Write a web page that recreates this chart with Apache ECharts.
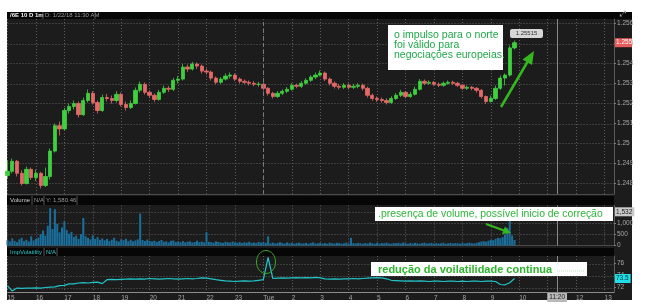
<!DOCTYPE html>
<html><head><meta charset="utf-8">
<script src="https://cdn.jsdelivr.net/npm/echarts@6/dist/echarts.min.js"></script>
<style>html,body{margin:0;padding:0;background:#fff}#c{width:648px;height:307px}</style>
</head><body><div id="c"></div>
<script>
// ---- data ----
const hourLabels = ['15','16','17','18','19','20','21','22','23','Tue','2','3','4','5','6','7','8','9','10','11','12','13'];
const opens = [1.24840,1.24861,1.24911,1.24851,1.24800,1.24871,1.24830,1.24851,1.24790,1.24835,
 1.24962,1.25089,1.25073,1.25165,1.25185,1.25200,1.25144,1.25215,1.25251,1.25205,
 1.25165,1.25230,1.25225,1.25215,1.25246,1.25195,1.25180,1.25200,1.25266,1.25296,
 1.25256,1.25241,1.25220,1.25256,1.25276,1.25271,1.25316,1.25322,1.25382,1.25372,
 1.25397,1.25387,1.25362,1.25357,1.25327,1.25306,1.25322,1.25337,1.25342,1.25322,
 1.25311,1.25306,1.25301,1.25296,1.25296,1.25276,1.25251,1.25235,1.25251,1.25261,
 1.25271,1.25291,1.25286,1.25301,1.25316,1.25332,1.25342,1.25352,1.25322,1.25301,
 1.25286,1.25281,1.25291,1.25281,1.25286,1.25291,1.25276,1.25241,1.25225,1.25220,
 1.25215,1.25205,1.25225,1.25241,1.25256,1.25235,1.25246,1.25271,1.25311,1.25301,
 1.25306,1.25296,1.25291,1.25301,1.25306,1.25301,1.25291,1.25276,1.25281,1.25276,
 1.25266,1.25235,1.25210,1.25225,1.25276,1.25327,1.25342,1.25478];
const closes = [1.24861,1.24911,1.24851,1.24800,1.24871,1.24830,1.24851,1.24790,1.24835,1.24962,
 1.25089,1.25073,1.25165,1.25185,1.25200,1.25144,1.25215,1.25251,1.25205,1.25165,
 1.25230,1.25225,1.25215,1.25246,1.25195,1.25180,1.25200,1.25266,1.25296,1.25256,
 1.25241,1.25220,1.25256,1.25276,1.25271,1.25316,1.25322,1.25382,1.25372,1.25397,
 1.25387,1.25362,1.25357,1.25327,1.25306,1.25322,1.25337,1.25342,1.25322,1.25311,
 1.25306,1.25301,1.25296,1.25296,1.25276,1.25251,1.25235,1.25251,1.25261,1.25271,
 1.25291,1.25286,1.25301,1.25316,1.25332,1.25342,1.25352,1.25322,1.25301,1.25286,
 1.25281,1.25291,1.25281,1.25286,1.25291,1.25276,1.25241,1.25225,1.25220,1.25215,
 1.25205,1.25225,1.25241,1.25256,1.25235,1.25246,1.25271,1.25311,1.25301,1.25306,
 1.25296,1.25291,1.25301,1.25306,1.25301,1.25291,1.25276,1.25281,1.25276,1.25266,
 1.25235,1.25210,1.25225,1.25276,1.25327,1.25342,1.25478,1.25504];
const lows = [1.24825,1.24850,1.24835,1.24790,1.24795,1.24818,1.24812,1.24775,1.24782,1.24820,
 1.24955,1.25040,1.25065,1.25150,1.25170,1.25130,1.25138,1.25205,1.25195,1.25150,
 1.25158,1.25210,1.25200,1.25205,1.25185,1.25165,1.25172,1.25195,1.25255,1.25245,
 1.25228,1.25208,1.25214,1.25248,1.25258,1.25262,1.25300,1.25315,1.25358,1.25365,
 1.25372,1.25350,1.25345,1.25315,1.25296,1.25298,1.25315,1.25325,1.25312,1.25300,
 1.25296,1.25290,1.25286,1.25284,1.25265,1.25240,1.25225,1.25228,1.25242,1.25252,
 1.25265,1.25276,1.25278,1.25294,1.25308,1.25322,1.25335,1.25312,1.25290,1.25275,
 1.25270,1.25272,1.25270,1.25272,1.25276,1.25265,1.25230,1.25214,1.25208,1.25204,
 1.25195,1.25198,1.25218,1.25232,1.25226,1.25228,1.25240,1.25265,1.25292,1.25294,
 1.25288,1.25282,1.25284,1.25294,1.25292,1.25282,1.25268,1.25268,1.25266,1.25255,
 1.25225,1.25198,1.25205,1.25218,1.25268,1.25290,1.25335,1.25470];
const highs = [1.24915,1.24925,1.24918,1.24866,1.24885,1.24880,1.24870,1.24858,1.24880,1.24975,
 1.25100,1.25110,1.25178,1.25200,1.25215,1.25210,1.25230,1.25270,1.25262,1.25215,
 1.25245,1.25248,1.25240,1.25262,1.25255,1.25210,1.25215,1.25280,1.25310,1.25305,
 1.25265,1.25250,1.25268,1.25290,1.25288,1.25328,1.25338,1.25398,1.25395,1.25408,
 1.25405,1.25395,1.25375,1.25365,1.25335,1.25332,1.25350,1.25355,1.25350,1.25330,
 1.25320,1.25315,1.25312,1.25308,1.25302,1.25282,1.25258,1.25262,1.25270,1.25282,
 1.25302,1.25300,1.25312,1.25326,1.25342,1.25355,1.25365,1.25360,1.25330,1.25310,
 1.25298,1.25302,1.25300,1.25298,1.25302,1.25300,1.25284,1.25250,1.25235,1.25230,
 1.25226,1.25236,1.25252,1.25268,1.25262,1.25258,1.25284,1.25322,1.25320,1.25316,
 1.25312,1.25305,1.25310,1.25315,1.25314,1.25308,1.25296,1.25290,1.25288,1.25282,
 1.25272,1.25240,1.25240,1.25290,1.25340,1.25350,1.25490,1.25515];
const volume = [250,180,320,210,150,280,350,200,260,180,420,230,300,360,
 520,680,450,900,1700,750,1650,980,600,820,1100,700,540,620,
 380,450,300,520,1250,420,350,280,460,300,380,260,320,
 240,300,200,260,350,220,180,280,240,310,200,260,190,230,280,1450,250,200,270,210,
 180,220,160,200,250,170,190,140,210,230,
 160,180,150,200,140,170,190,130,160,220,
 150,180,140,600,170,150,130,190,160,140,
 120,170,150,130,180,140,120,160,110,150,
 130,170,120,140,110,160,130,150,120,420,
 100,130,90,120,150,110,90,140,100,120,
 80,110,130,90,100,120,80,110,140,90,
 100,120,90,110,80,130,100,90,120,110,
 80,100,130,90,350,110,90,120,100,80,
 110,90,130,100,80,120,90,110,100,130,
 90,80,110,100,120,90,140,100,80,110,
 90,120,100,80,110,130,90,100,120,80,
 110,90,100,130,80,100,120,90,110,100,
 80,120,90,110,130,100,90,120,150,180,
 200,170,220,260,240,
 300,350,330,380,500,800,1150,450,250];
const impVol = [72.3,71.4,71.9,71.85,71.9,71.9,71.95,71.9,72.0,72.05,
 72.1,72.3,72.35,72.6,72.6,72.75,72.8,72.75,72.85,72.9,
 72.65,73.3,73.35,73.3,73.35,73.4,73.45,73.4,73.45,73.4,
 73.5,73.45,73.4,73.45,73.5,73.45,73.4,73.45,73.5,73.45,
 73.5,73.6,73.55,73.45,73.3,73.2,73.1,73.05,73.0,73.05,
 73.1,73.05,73.1,73.2,73.3,77.0,73.5,73.55,73.6,73.55,
 73.6,73.65,73.6,73.65,73.6,73.7,73.6,73.45,73.4,73.45,
 73.4,73.45,73.45,73.5,73.45,73.5,73.55,73.6,73.65,73.6,
 73.45,73.2,73.15,73.1,73.05,73.1,73.05,73.1,73.05,73.0,
 73.05,73.05,73.0,73.05,73.05,73.0,73.05,73.0,73.05,73.05,
 73.0,73.05,73.05,73.0,72.5,72.45,72.8,73.5];
const priceTicks = [1.248,1.249,1.250,1.251,1.252,1.253,1.254,1.255,1.256];
const volumeTicks = [0,500,1000];
const volumeGridVals = [500,1000,1500];
const ivTicks = [72,74,76];
const volumeMaxText = '1,532';
const volumeMaxValue = 1532;
const cursorLabel = '11:20';

// ---- layout helpers ----
const SLOTS10 = 129, SLOTS5 = 257;
const cats10 = Array.from({length:SLOTS10},(_,i)=> i%6===0 ? (hourLabels[i/6]||'') : '');
const cats5 = Array.from({length:SLOTS5},(_,i)=> i%12===0 ? (hourLabels[i/12]||'') : '');
const cursor10 = 116, cursor5 = 232, day10 = 54;
const candles = closes.map((c,i)=>[opens[i],c,lows[i],highs[i]]);
const FONT = 'Liberation Sans';
const axisTxt = {fontSize:6.5, color:'#a6a6a6', fontFamily:FONT};
const gridLine = {color:'#5e5e5e', type:[1,2], width:1};
const L = 7.5, R = 34;
const hidden = {color:'rgba(0,0,0,0)', width:0};

function xAx(grid, data, step, showLabel){
  return {gridIndex:grid, type:'category', data:data, boundaryGap:false,
    axisLine:{show:true, onZero:false, lineStyle:{color: showLabel ? '#8c8c8c' : '#4a4a4a'}},
    axisTick:{show:false},
    axisLabel: showLabel ? Object.assign({show:true, interval:step, align:'left', margin:3}, axisTxt) : {show:false},
    splitLine:{show:true, interval:step, lineStyle:gridLine}};
}
function yAx(grid, min, max, ticks, fmt){
  return {gridIndex:grid, type:'value', position:'right', min:min, max:max, scale:true,
    axisLine:{show:true, lineStyle:{color:'#5a5a5a'}},
    axisTick:{show:true, length:2, customValues:ticks, lineStyle:{color:'#777'}},
    axisLabel:Object.assign({show:true, margin:3, customValues:ticks, formatter:fmt}, axisTxt),
    splitLine:{show:false}};
}
const cursorLine = {color:'#8a8a8a', type:'solid', width:1};
function badge(text, bg, fg){
  return {show:true, position:'end', distance:1, formatter:text, backgroundColor:bg, color:fg,
    fontSize:6.5, fontFamily:FONT, padding:[1,2,1,1]};
}

const chart = echarts.init(document.getElementById('c'), null, {renderer:'canvas'});
chart.setOption({
  animation:false,
  backgroundColor:'#ffffff',
  grid:[
    {left:L, right:R, top:19, height:175},
    {left:L, right:R, top:205.5, height:40},
    {left:L, right:R, top:256, height:36}
  ],
  xAxis:[ xAx(0,cats10,5,false), xAx(1,cats5,11,false), xAx(2,cats10,5,true) ],
  yAxis:[
    yAx(0, 1.247475, 1.256225, priceTicks, v=>String(+(+v).toFixed(3))),
    yAx(1, 0, 1818.18, volumeTicks, v=>(+v).toLocaleString('en-US')),
    yAx(2, 71.25, 77.25, ivTicks, v=>String(+v))
  ],
  series:[
    {type:'line', xAxisIndex:0, yAxisIndex:0, data:closes, z:1, silent:true, symbol:'none',
     lineStyle:{width:0, opacity:0},
     markLine:{silent:true, symbol:['none','none'], animation:false, z:8,
       data:[
         {xAxis:day10, lineStyle:{color:'#7a7a7a', type:[4,3], width:1}, label:{show:false}},
         {xAxis:cursor10, lineStyle:cursorLine, label:{show:false}}
       ]}},
    {type:'candlestick', xAxisIndex:0, yAxisIndex:0, data:candles, barWidth:3.8, z:3,
     itemStyle:{color:'#3fcf3f', color0:'#e46a6a', borderColor:'#3fcf3f', borderColor0:'#e46a6a', borderWidth:0.8}},
    {type:'bar', xAxisIndex:1, yAxisIndex:1, data:volume, barCategoryGap:'15%', z:3,
     itemStyle:{color:'#1b6f9c'},
     markLine:{silent:true, symbol:['none','none'], animation:false, z:1,
       data:[
         {xAxis:cursor5, lineStyle:cursorLine, label:{show:false}},
         {yAxis:volumeMaxValue, lineStyle:hidden, label:badge(volumeMaxText, '#c9c9c9', '#222')}
       ]}},
    {type:'line', xAxisIndex:2, yAxisIndex:2, data:impVol, symbol:'none', z:3,
     lineStyle:{color:'#22c4c8', width:1.2},
     markLine:{silent:true, symbol:['none','none'], animation:false,
       data:[
         {xAxis:cursor10, lineStyle:cursorLine,
          label:{show:true, position:'start', distance:1, formatter:cursorLabel,
            backgroundColor:'#b9b9b9', color:'#222', fontSize:6.5, fontFamily:FONT, padding:[1,2,1,2]}},
         {yAxis:impVol[impVol.length-1], lineStyle:hidden,
          label:badge(impVol[impVol.length-1].toFixed(1), '#1ee0ea', '#033')}
       ]}}
  ],
  graphic:[
    {type:'rect', z:-10, silent:true, shape:{x:7,y:12,width:625,height:288}, style:{fill:'#1c1c1c'}},
    {type:'rect', z:-5, silent:true, shape:{x:7,y:12,width:625,height:7}, style:{fill:'#060606'}},
    {type:'rect', z:-5, silent:true, shape:{x:7,y:196,width:607,height:9}, style:{fill:'#060606'}},
    {type:'rect', z:-5, silent:true, shape:{x:7,y:248,width:607,height:8}, style:{fill:'#060606'}},
    {type:'text', z:10, style:{text:'⤢', x:623, y:14, align:'center', verticalAlign:'middle', fill:'#aaaaaa', font:'8px "DejaVu Sans"'}},
    // header texts
    {type:'text', z:10, style:{text:'/6E 10 D 1m', x:10, y:15.5, verticalAlign:'middle', fill:'#f0f0f0', font:'bold 6px "Liberation Sans"'}},
    {type:'line', z:10, shape:{x1:43,y1:12,x2:43,y2:19}, style:{stroke:'#555', lineWidth:1}},
    {type:'text', z:10, style:{text:'D: 1/22/18 11:30 AM', x:45, y:15.5, verticalAlign:'middle', fill:'#9a9a9a', font:'6px "Liberation Sans"'}},
    {type:'line', z:10, shape:{x1:95,y1:12,x2:95,y2:19}, style:{stroke:'#555', lineWidth:1}},
    {type:'text', z:10, style:{text:'Volume', x:10, y:200.5, verticalAlign:'middle', fill:'#d0d0d0', font:'6px "Liberation Sans"'}},
    {type:'line', z:10, shape:{x1:32,y1:196,x2:32,y2:205}, style:{stroke:'#555', lineWidth:1}},
    {type:'text', z:10, style:{text:'N/A', x:34, y:200.5, verticalAlign:'middle', fill:'#9a9a9a', font:'6px "Liberation Sans"'}},
    {type:'line', z:10, shape:{x1:44,y1:196,x2:44,y2:205}, style:{stroke:'#555', lineWidth:1}},
    {type:'text', z:10, style:{text:'Y: 1,580.46', x:46, y:200.5, verticalAlign:'middle', fill:'#9a9a9a', font:'6px "Liberation Sans"'}},
    {type:'line', z:10, shape:{x1:77,y1:196,x2:77,y2:205}, style:{stroke:'#555', lineWidth:1}},
    {type:'text', z:10, style:{text:'ImpVolatility', x:10, y:252.5, verticalAlign:'middle', fill:'#2cc6cc', font:'6px "Liberation Sans"'}},
    {type:'line', z:10, shape:{x1:44,y1:248,x2:44,y2:256}, style:{stroke:'#555', lineWidth:1}},
    {type:'text', z:10, style:{text:'N/A', x:46, y:252.5, verticalAlign:'middle', fill:'#2cc6cc', font:'6px "Liberation Sans"'}},
    {type:'line', z:10, shape:{x1:57,y1:248,x2:57,y2:256}, style:{stroke:'#555', lineWidth:1}},
    // annotation 1
    {type:'rect', z:20, shape:{x:388,y:25,width:115,height:45}, style:{fill:'#ffffff'}},
    {type:'text', z:21, style:{text:'o impulso para o norte\nfoi válido para\nnegociações europeias.', x:394, y:30, lineHeight:10, fill:'#1fa84a', font:'10.5px "Liberation Sans"'}},
    // hover bubble
    {type:'rect', z:20, shape:{x:510,y:29,width:33,height:9,r:2}, style:{fill:'#d6d6d6'}},
    {type:'text', z:21, style:{text:'1.25515', x:526.5, y:33.5, align:'center', verticalAlign:'middle', fill:'#333', font:'6px "Liberation Sans"'}},
    // arrow 1
    {type:'line', z:20, shape:{x1:501,y1:107,x2:528,y2:61}, style:{stroke:'#35b81f', lineWidth:2.5}},
    {type:'polygon', z:20, shape:{points:[[534,51],[532,65],[522.5,59.5]]}, style:{fill:'#35b81f'}},
    // annotation 2
    {type:'rect', z:20, shape:{x:375,y:207,width:238,height:14}, style:{fill:'#ffffff'}},
    {type:'text', z:21, style:{text:'.presença de volume, possível inicio de correção', x:378, y:214.5, verticalAlign:'middle', fill:'#2db53a', font:'10.4px "Liberation Sans"'}},
    {type:'line', z:20, shape:{x1:486,y1:224,x2:504,y2:230.5}, style:{stroke:'#35b81f', lineWidth:2}},
    {type:'polygon', z:20, shape:{points:[[511,233],[502,234],[505,226.5]]}, style:{fill:'#35b81f'}},
    // annotation 3
    {type:'rect', z:20, shape:{x:371,y:262,width:216,height:14}, style:{fill:'#ffffff'}},
    {type:'text', z:21, style:{text:'redução da voilatilidade continua', x:378, y:269.5, verticalAlign:'middle', fill:'#2eb52e', font:'bold 11px "Liberation Sans"'}},
    {type:'line', z:21, shape:{x1:557,y1:271,x2:584,y2:271}, style:{stroke:'#b9e0b9', lineWidth:1, lineDash:[1,1]}},
    // ellipse around spike
    {type:'ellipse', z:20, shape:{cx:266,cy:262,rx:9.5,ry:11.5}, style:{fill:'none', stroke:'#3aa82a', lineWidth:1}}
  ]
});
// horizontal grid lines and the last-price badge, positioned through each panel's value scale
const x0 = L, x1 = 648 - R;
const extra = [];
function hGrid(axisIdx, vals, tag){
  vals.forEach((v,i)=>{
    const y = Math.round(chart.convertToPixel({yAxisIndex:axisIdx}, v)) + 0.5;
    extra.push({id:tag+i, type:'line', z:-1, silent:true, shape:{x1:x0, y1:y, x2:x1, y2:y},
      style:{stroke:'#5e5e5e', lineWidth:1, lineDash:[1,2]}});
  });
}
hGrid(0, priceTicks, 'gp');
hGrid(1, volumeGridVals, 'gv');
hGrid(2, ivTicks, 'gi');
const lastClose = closes[closes.length-1];
const by = chart.convertToPixel({yAxisIndex:0}, lastClose);
extra.push({id:'lastBadge', type:'rect', z:30, shape:{x:615, y:by-4.5, width:17, height:9}, style:{fill:'#e85c5c'}});
extra.push({id:'lastBadgeTxt', type:'text', z:31, style:{text:String(+lastClose.toFixed(3)), x:616, y:by, verticalAlign:'middle', fill:'#ffffff', font:'6.5px "Liberation Sans"'}});
chart.setOption({graphic:extra});
</script></body></html>
